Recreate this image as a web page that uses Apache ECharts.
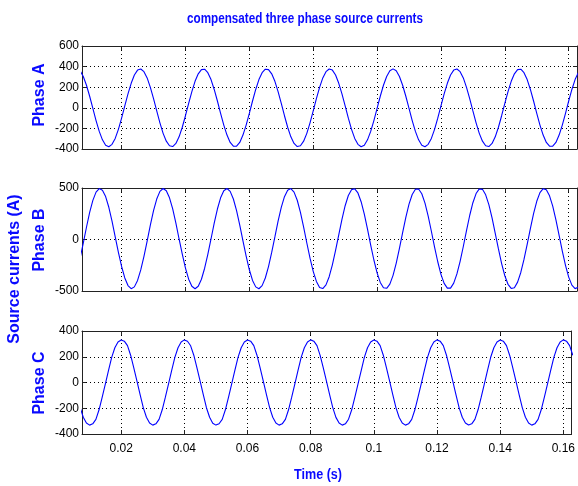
<!DOCTYPE html>
<html>
<head>
<meta charset="utf-8">
<script src="https://cdn.jsdelivr.net/npm/echarts@6/dist/echarts.min.js"></script>
<style>
html, body { margin: 0; padding: 0; background: #fff; }
#chart { width: 578px; height: 486px; }
</style>
</head>
<body>
<div id="chart"></div>
<script>
// sample instants: 7 ms .. 163 ms, one every ms
const tStartMs = 7;
const times = [];
for (let i = 0; i < 157; i++) times.push((tStartMs + i) / 1000);

// phase currents (A), one value per sample
const phaseA = [
  359, 304, 219, 112, -6, -124, -229, -311, -363, -378, -355, -297, -209, -101, 18, 135, 238, 318, 366,
  377, 351, 290, 199, 89, -30, -146, -248, -324, -369, -376, -346, -282, -189, -77, 42, 157, 257, 330, 371,
  375, 341, 274, 178, 66, -54, -168, -265, -336, -373, -373, -336, -265, -168, -54, 66, 178, 274, 341, 375,
  371, 330, 257, 157, 42, -77, -189, -282, -346, -376, -369, -324, -248, -146, -30, 89, 199, 290, 351, 377,
  366, 318, 238, 135, 18, -101, -209, -297, -355, -378, -363, -311, -229, -124, -6, 112, 219, 304, 359, 378,
  359, 304, 219, 112, -6, -124, -229, -311, -363, -378, -355, -297, -209, -101, 18, 135, 238, 318, 366, 377,
  351, 290, 199, 89, -30, -146, -248, -324, -369, -376, -346, -282, -189, -77, 42, 157, 257, 330, 371, 375,
  341, 274, 178, 66, -54, -168, -265, -336, -373, -373, -336, -265, -168, -54, 66, 178, 274, 341
];
const phaseB = [
  -181, -35, 119, 263, 380, 460, 494, 479, 417, 313, 178, 26, -125, -262, -373, -447, -478, -460, -397, -295,
  -163, -15, 139, 280, 393, 467, 495, 474, 405, 297, 159, 5, -143, -278, -385, -454, -478, -454, -386, -279,
  -144, 5, 158, 296, 405, 473, 495, 467, 393, 281, 140, -14, -162, -294, -397, -460, -478, -448, -374, -263,
  -125, 25, 178, 312, 416, 479, 494, 460, 381, 263, 120, -34, -181, -309, -407, -465, -476, -441, -361, -246,
  -106, 45, 196, 328, 427, 484, 492, 452, 367, 246, 100, -54, -199, -324, -417, -469, -474, -433, -348, -229,
  -87, 66, 215, 343, 437, 488, 490, 444, 353, 228, 80, -73, -216, -338, -426, -472, -472, -424, -334, -212,
  -68, 86, 233, 357, 446, 491, 487, 434, 339, 210, 60, -92, -234, -352, -435, -475, -468, -414, -320, -194,
  -48, 106, 251, 371, 455, 493, 482, 424, 324, 191, 40, -112, -251, -365, -443, -477, -464
];
const phaseC = [
  -195, -270, -315, -331, -321, -286, -212, -114, -10, 94, 195, 270, 315,
  330, 321, 286, 212, 114, 10, -94, -195, -270, -315, -331, -321, -286, -212, -114, -10, 94, 195, 270, 315,
  331, 320, 285, 212, 114, 10, -94, -196, -270, -316, -331, -320, -286, -212, -113, -10, 94, 195, 270, 314,
  330, 321, 286, 212, 114, 10, -94, -195, -270, -315, -331, -321, -286, -212, -114, -10, 94, 195, 270, 315,
  331, 321, 286, 211, 114, 10, -94, -195, -271, -315, -331, -321, -285, -212, -114, -10, 93, 195, 270, 315,
  330, 321, 286, 212, 114, 10, -94, -195, -270, -315, -331, -321, -286, -212, -114, -10, 94, 195, 270, 315,
  331, 321, 286, 212, 113, 10, -94, -195, -270, -315, -330, -321, -286, -212, -114, -10, 94, 196, 270, 315,
  330, 321, 286, 212, 114, 10, -94, -195, -270, -315, -331, -321, -286, -212, -114, -10, 94, 195, 270, 315,
  331, 321, 286, 212
];

const panelNames = ['Phase A', 'Phase B', 'Phase C'];
const yMin = [-400, -500, -400];
const yMax = [600, 500, 400];
const yStep = [200, 500, 200];
const tMin = 0.0076, tMax = 0.1626;

const chart = echarts.init(document.getElementById('chart'));

const blue = '#0a0aff';
const labelFont = '"Liberation Sans", Arial, sans-serif';
const gridTops = [46, 188, 331];
const gridH = 103;

const grids = gridTops.map(t => ({ left: 82, right: 1, top: t, height: gridH }));

const tickStyle = { inside: true, length: 4, lineStyle: { color: '#222', width: 1 } };
const frameLine = { show: true, onZero: false, lineStyle: { color: '#222', width: 1 } };
const dotted = { show: true, lineStyle: { color: '#000', width: 1, type: [1, 3] } };

const xAxes = [];
const yAxes = [];
for (let i = 0; i < 3; i++) {
  xAxes.push({
    type: 'value', gridIndex: i, position: 'bottom', min: tMin, max: tMax, splitNumber: 8,
    axisLine: frameLine, axisTick: tickStyle, splitLine: dotted,
    axisLabel: {
      show: i === 2, showMinLabel: false, showMaxLabel: false, margin: 9,
      color: '#000', fontFamily: labelFont, fontSize: 12,
      formatter: v => String(+v.toFixed(3))
    }
  });
}
for (let i = 0; i < 3; i++) {
  xAxes.push({
    type: 'value', gridIndex: i, position: 'top', min: tMin, max: tMax, splitNumber: 8,
    axisLine: frameLine, axisTick: tickStyle, splitLine: { show: false }, axisLabel: { show: false }
  });
}
for (let i = 0; i < 3; i++) {
  yAxes.push({
    type: 'value', gridIndex: i, position: 'left', min: yMin[i], max: yMax[i], interval: yStep[i],
    axisLine: frameLine, axisTick: tickStyle, splitLine: dotted,
    axisLabel: { margin: 3, color: '#000', fontFamily: labelFont, fontSize: 12 }
  });
}
for (let i = 0; i < 3; i++) {
  yAxes.push({
    type: 'value', gridIndex: i, position: 'right', min: yMin[i], max: yMax[i], interval: yStep[i],
    axisLine: frameLine, axisTick: tickStyle, splitLine: { show: false }, axisLabel: { show: false }
  });
}

const series = [phaseA, phaseB, phaseC].map((vals, i) => ({
  name: panelNames[i],
  type: 'line',
  xAxisIndex: i,
  yAxisIndex: i,
  showSymbol: false,
  animation: false,
  clip: true,
  lineStyle: { color: '#0000ff', width: 1.1 },
  data: vals.map((v, k) => [times[k], v])
}));

const phaseLabelY = [95, 240, 383];
const graphics = [
  {
    type: 'text', x: 305, y: 19, scaleX: 0.78,
    style: { text: 'compensated three phase source currents', font: 'bold 15px "Liberation Sans", Arial, sans-serif', fill: blue, align: 'center', verticalAlign: 'middle' }
  },
  {
    type: 'text', x: 318, y: 475, scaleX: 0.84,
    style: { text: 'Time (s)', font: 'bold 15px "Liberation Sans", Arial, sans-serif', fill: blue, align: 'center', verticalAlign: 'middle' }
  },
  {
    type: 'text', x: 15, y: 269, rotation: Math.PI / 2,
    style: { text: 'Source currents (A)', font: 'bold 16px "Liberation Sans", Arial, sans-serif', fill: blue, align: 'center', verticalAlign: 'middle' }
  }
];
panelNames.forEach((name, i) => {
  graphics.push({
    type: 'text', x: 40, y: phaseLabelY[i], rotation: Math.PI / 2,
    style: { text: name, font: 'bold 16px "Liberation Sans", Arial, sans-serif', fill: blue, align: 'center', verticalAlign: 'middle' }
  });
});

chart.setOption({
  animation: false,
  backgroundColor: '#fff',
  grid: grids,
  xAxis: xAxes,
  yAxis: yAxes,
  series: series,
  graphic: graphics
});
</script>
</body>
</html>
